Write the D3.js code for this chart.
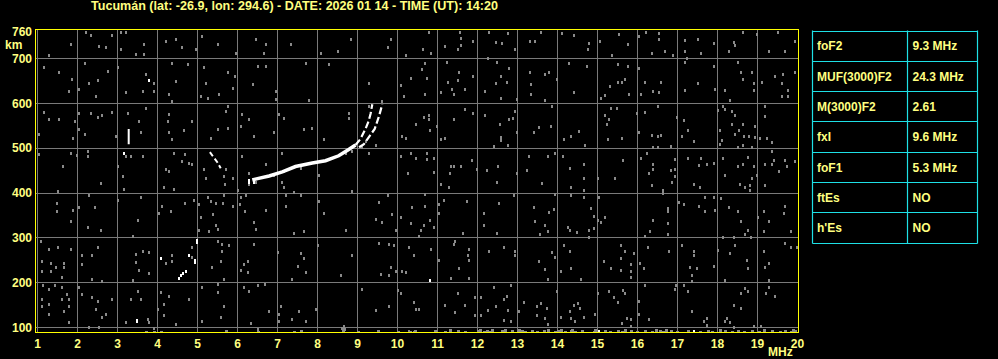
<!DOCTYPE html>
<html><head><meta charset="utf-8">
<script src="https://cdn.jsdelivr.net/npm/d3@7"></script>
<style>html,body{margin:0;padding:0;background:#000;overflow:hidden}svg{display:block}</style>
</head><body><svg id="c" width="998" height="359"></svg>
<script>
// ---------- data ----------
const titleText = "Tucumán (lat: -26.9, lon: 294.6) - DATE: 2026 01 14 - TIME (UT): 14:20";
const freqTicks = [1,2,3,4,5,6,7,8,9,10,11,12,13,14,15,16,17,18,19,20];
const heightTicks = [100,200,300,400,500,600,700,760];
const paramNames = ["foF2","MUF(3000)F2","M(3000)F2","fxI","foF1","ftEs","h'Es"];
const paramValues = ["9.3 MHz","24.3 MHz","2.61","9.6 MHz","5.3 MHz","NO","NO"];

// main F-layer trace (MHz, km)
const traceMain = [[6.37,429],[6.5,432],[6.79,438],[7.12,447],[7.45,459],[7.87,467],[8.2,472],[8.53,483],[8.78,497],[8.95,507]];
// ordinary branch near the cusp
const traceO = [[8.95,507],[9.07,520],[9.2,543],[9.28,561],[9.33,578],[9.37,598]];
// extraordinary branch
const traceX = [[9.04,502],[9.16,509],[9.28,524],[9.43,543],[9.53,569],[9.62,598]];
// F1 fragment
const traceF1 = [[5.31,491],[5.5,468],[5.58,455]];
// short vertical echo
const traceV = [[3.28,543],[3.28,509]];
// isolated strong echoes
const whiteDots = [[3.78,653],[3.15,489],[4.98,296],[4.98,291],[4.93,246],[4.93,250],[4.78,261],[4.09,256],[4.71,226],[4.63,221],[4.54,211],[4.58,216],[3.48,114],[3.48,117],[10.82,205],[15.04,92],[17.4,93],[6.3,428],[6.4,428],[6.3,424],[6.4,424]];

// background noise, read cell by cell
const noiseLowHigh = [[2.21,758],[2.33,752],[2.54,728],[2.71,725],[1.83,732],[1.29,707],[3.08,758],[3.21,760],[3.08,721],[3.67,732],[3.46,710],[4.21,740],[4.46,743],[4.62,725],[4.96,721],[5.12,751],[5.5,732],[5.96,713],[6.46,743],[6.71,732],[6.67,713],[7.33,732],[8.08,713],[8.5,717],[8.83,743],[9.75,725],[9.83,743],[10.21,707],[2.87,752],[3.67,710],
[1.17,680],[1.53,670],[1.86,655],[2.19,691],[2.29,646],[2.52,652],[2.77,672],[3.0,680],[1.79,628],[2.04,633],[2.46,617],[3.2,625],[3.71,665],[3.92,646],[3.92,628],[3.63,628],[4.29,620],[4.37,691],[4.46,650],[4.75,687],[4.37,605],[5.17,680],[5.21,646],[5.08,617],[5.25,611],[5.54,620],[5.77,669],[5.94,661],[5.88,635],[6.52,684],[6.38,643],[6.71,684],[6.96,628],[6.96,609],[7.71,691],[8.29,687],[7.79,608],[9.29,646],[10.08,640],[10.33,657],[10.17,617],
[1.17,581],[1.29,564],[1.54,566],[1.94,561],[2.04,579],[2.33,579],[2.5,570],[2.62,573],[2.87,581],[2.04,542],[2.19,531],[1.88,523],[2.96,527],[1.04,531],[3.25,579],[3.71,590],[3.54,561],[3.58,536],[4.29,576],[4.25,561],[4.29,535],[4.67,541],[4.37,520],[4.87,561],[5.75,594],[5.71,582],[5.5,543],[5.75,546],[5.33,523],[6.12,576],[6.08,550],[6.29,564],[6.42,527],[7.04,576],[7.17,568],[6.92,535],[7.67,542],[7.87,544],[8.17,520],[8.79,579],[8.79,568],[9.29,594],[9.62,605],[10.12,527],[10.21,523],[10.46,553],
[1.04,486],[1.83,490],[1.98,484],[2.27,494],[2.27,482],[1.63,460],[3.02,460],[3.21,482],[3.33,482],[3.63,482],[3.13,438],[4.21,453],[4.29,449],[4.62,471],[4.79,467],[4.87,464],[4.69,486],[4.42,490],[5.17,453],[5.21,434],[5.71,453],[5.67,438],[5.88,434],[6.29,445],[6.12,482],[6.71,464],[7.12,490],[7.17,449],[8.04,441],[9.29,490],[9.46,508],[10.08,482],[10.33,490],[10.46,479],[10.25,445],
[6.3,421],[6.45,425],[6.9,441],[7.6,456],[8.7,489],[8.85,494],[9.1,503],[9.22,515]];

const noiseLowLow = [[2.58,422],[3.17,410],[4.17,413],[4.42,410],[5.69,421],[6.0,406],[7.12,425],[7.17,413],[1.5,404],
[1.48,378],[1.48,360],[1.88,361],[2.04,369],[2.29,395],[2.44,369],[1.83,337],[2.27,324],[2.58,317],[3.0,384],[3.52,340],[3.58,391],[3.38,305],[4.12,372],[4.33,359],[4.69,378],[4.04,355],[4.92,384],[5.04,376],[5.08,346],[5.25,391],[5.33,382],[5.46,378],[5.38,354],[5.63,378],[5.67,395],[5.88,372],[5.46,328],[5.52,320],[5.29,315],[5.04,317],[6.06,375],[6.08,391],[6.19,360],[6.22,395],[6.71,363],[6.42,335],[6.46,320],[7.21,395],[7.41,402],[7.58,395],[7.21,372],[7.41,311],[7.67,315],[8.04,382],[8.17,355],[8.71,317],[8.87,404],[9.54,380],[9.75,395],[9.87,354],[9.62,335],[9.46,343],[10.08,346],[10.33,333],[10.37,369],[10.54,305],[9.96,318],
[1.08,293],[1.29,276],[1.52,279],[1.83,276],[1.12,249],[1.33,243],[1.46,234],[1.67,243],[1.12,227],[1.33,227],[1.67,234],[2.12,261],[2.12,242],[2.37,261],[2.5,279],[1.62,212],[2.37,208],[2.62,203],[3.46,264],[3.63,270],[3.79,268],[3.46,246],[3.54,229],[3.79,221],[3.38,205],[4.37,261],[4.21,244],[4.37,248],[4.87,279],[4.87,257],[5.5,293],[5.62,287],[5.62,270],[5.79,285],[5.58,248],[5.37,234],[5.67,208],[6.17,242],[6.25,249],[6.08,229],[6.25,223],[6.42,287],[7.0,268],[7.37,208],[7.58,266],[7.67,256],[7.5,238],[7.71,223],[8.0,283],[8.58,216],[8.87,261],[9.54,288],[9.79,287],[9.92,283],[9.83,236],[9.96,227],[9.58,220],[9.79,218],[10.12,227],[10.21,223],[10.29,279],[10.42,261],
[1.14,194],[1.29,186],[1.44,194],[1.12,164],[1.12,147],[1.29,153],[1.29,130],[1.62,190],[1.73,175],[1.62,164],[1.79,147],[1.79,164],[1.65,136],[1.79,112],[2.04,190],[2.12,175],[2.37,168],[2.5,159],[2.46,141],[2.62,123],[2.71,130],[2.54,102],[2.29,102],[2.87,164],[3.21,112],[3.33,164],[3.58,164],[3.5,181],[3.79,112],[3.92,100],[3.75,119],[4.08,179],[4.29,171],[4.17,153],[4.17,127],[4.0,141],[4.79,164],[4.46,108],[5.12,190],[5.52,196],[5.52,179],[5.67,147],[5.58,124],[5.12,115],[6.17,190],[6.29,182],[6.52,194],[6.69,197],[6.33,109],[6.5,96],[6.79,136],[7.08,147],[7.04,130],[7.04,115],[7.37,118],[7.54,136],[7.71,115],[7.96,141],[8.62,100],[8.67,104],[9.12,186],[9.46,138],[9.79,147],[10.0,184],[10.08,176],[10.42,156],[10.46,141],[10.29,93],[10.42,89]];

const noiseHighHigh = [[10.79,758],[11.56,758],[11.59,745],[11.89,740],[11.59,730],[11.5,721],[11.19,727],[10.64,721],[10.85,712],[12.29,760],[12.45,737],[12.6,734],[12.27,702],[12.75,757],[12.94,721],[13.31,740],[13.44,740],[13.59,760],[14.1,757],[14.4,752],[14.79,734],[14.77,721],[15.06,740],[15.35,707],[15.54,755],[15.75,732],[16.2,760],[16.04,750],[16.54,757],[16.54,743],[16.35,712],[16.69,717],[16.9,707],[17.19,742],[17.5,743],[17.19,717],[17.59,712],[17.9,734],[18.4,737],[18.44,730],[18.29,717],[18.65,760],[18.98,755],[19.5,758],[19.29,717],[19.69,717],[19.94,740],
[10.69,691],[10.6,676],[10.73,657],[10.69,620],[11.23,693],[11.54,670],[11.25,648],[11.5,652],[11.35,633],[11.69,633],[11.09,625],[11.4,620],[11.89,661],[12.48,693],[12.79,678],[12.59,661],[12.45,646],[12.19,628],[12.73,648],[12.59,611],[12.98,609],[13.31,670],[13.34,643],[13.69,665],[13.79,670],[13.69,608],[13.34,620],[13.98,655],[14.29,691],[14.73,684],[14.4,625],[15.5,687],[15.75,684],[15.7,655],[15.5,648],[15.62,648],[15.31,639],[15.19,618],[15.09,613],[15.79,621],[16.09,621],[16.19,648],[16.4,628],[16.54,626],[16.59,648],[16.04,678],[17.19,693],[17.23,702],[17.9,684],[17.5,646],[17.19,630],[17.94,631],[18.5,693],[18.59,670],[18.85,670],[18.65,655],[18.9,645],[18.19,630],[18.31,608],[18.9,630],[19.1,648],[19.44,661],[19.65,666],[19.6,645],[19.77,630],[19.77,617],[19.6,617],[19.94,670],
[10.65,570],[10.79,575],[10.79,566],[10.98,549],[10.81,540],[11.09,520],[11.19,523],[11.4,566],[11.69,588],[11.89,579],[12.19,575],[12.56,553],[12.94,582],[12.79,566],[12.89,568],[12.98,535],[12.59,526],[12.59,518],[12.75,508],[12.4,505],[13.85,594],[13.4,535],[13.54,547],[13.84,549],[14.15,520],[14.34,527],[14.54,538],[14.69,508],[15.19,573],[15.29,564],[15.23,553],[15.34,590],[15.48,590],[15.25,521],[15.6,523],[15.98,579],[16.04,535],[16.19,581],[16.5,594],[16.35,530],[16.5,528],[16.59,530],[16.4,503],[16.5,503],[16.84,505],[16.98,570],[17.15,563],[17.27,541],[17.1,527],[17.4,516],[18.0,585],[18.15,593],[18.19,588],[18.35,583],[18.44,573],[18.35,553],[18.65,553],[18.54,541],[18.44,531],[18.67,528],[18.79,528],[18.94,549],[18.95,526],[18.06,541],[18.12,519],[18.06,509],[18.5,503],[18.65,508],[18.85,503],[19.06,523],[19.23,523],[19.35,514],[19.19,593],[19.19,572],
[10.73,490],[10.73,475],[10.92,479],[10.9,447],[11.34,460],[11.42,460],[11.31,445],[11.6,460],[11.85,473],[11.99,454],[12.24,451],[12.52,460],[12.98,445],[13.29,482],[13.23,451],[13.75,482],[13.94,490],[14.14,482],[14.31,456],[14.65,464],[14.65,434],[15.02,434],[15.44,434],[15.64,473],[16.09,479],[16.23,490],[16.4,464],[16.4,453],[16.29,445],[16.94,475],[16.94,453],[16.84,451],[16.94,438],[17.25,479],[17.59,479],[17.54,462],[17.73,464],[17.9,468],[18.15,479],[18.19,441],[18.5,460],[18.65,464],[18.75,481],[18.9,460],[18.98,441],[18.85,434],[19.19,464],[19.37,494],[19.4,473],[19.37,464],[19.54,449],[19.69,473],[19.73,460],[19.94,471]];

const noiseHighLow = [[11.09,419],[11.29,413],[12.48,425],[13.62,422],[14.34,413],[14.65,407],[16.35,417],[16.65,406],[16.85,425],[17.4,421],[17.56,413],[18.56,421],[18.69,413],[18.81,417],[18.81,406],[19.19,417],
[10.69,398],[11.04,375],[10.69,372],[11.15,385],[11.04,355],[10.81,340],[10.65,328],[10.9,324],[10.59,318],[11.75,382],[11.64,311],[12.15,355],[12.15,329],[12.54,378],[12.5,311],[12.9,395],[13.4,369],[13.44,337],[13.69,328],[13.79,358],[13.9,365],[13.94,398],[13.77,315],[13.56,309],[14.25,324],[14.34,395],[14.31,317],[14.5,313],[14.65,391],[14.84,367],[14.9,348],[15.02,339],[15.09,335],[15.19,346],[14.79,318],[14.9,322],[14.79,302],[15.04,391],[16.4,340],[16.31,315],[16.19,305],[16.65,400],[16.75,367],[16.75,360],[16.75,333],[16.75,309],[17.04,380],[17.15,375],[17.54,372],[17.69,391],[17.9,391],[17.69,360],[17.94,363],[18.09,389],[18.29,369],[18.52,360],[18.59,337],[18.75,318],[18.69,309],[18.15,302],[18.42,302],[18.84,302],[19.0,346],[19.15,360],[19.29,337],[19.15,315],[19.67,355],[19.69,372],[19.84,315],
[10.84,276],[11.04,251],[11.4,287],[11.44,293],[11.79,276],[11.77,261],[11.79,251],[11.54,233],[11.34,211],[11.79,211],[12.29,270],[12.65,279],[12.94,270],[12.94,261],[13.54,248],[13.69,231],[13.75,208],[13.85,268],[13.94,257],[14.09,226],[14.15,283],[14.31,270],[14.34,233],[14.59,208],[15.15,248],[15.34,233],[15.59,283],[15.7,270],[15.59,255],[15.59,229],[15.9,266],[15.85,242],[15.85,227],[15.85,212],[16.06,243],[16.15,233],[16.25,279],[16.79,270],[17.1,283],[17.4,270],[17.4,261],[17.31,235],[17.48,233],[17.35,216],[17.35,203],[17.9,238],[18.0,273],[18.31,266],[18.44,283],[18.73,251],[18.77,233],[18.19,206],[19.15,270],[19.29,243],[19.19,236],[19.29,206],[19.69,288],[19.84,279],[19.98,280],
[10.54,141],[11.19,151],[11.44,134],[11.5,176],[11.69,151],[11.94,167],[11.94,127],[12.09,167],[12.09,127],[12.25,139],[12.4,190],[12.45,147],[12.65,164],[12.73,171],[12.75,138],[12.65,117],[12.84,194],[12.84,114],[13.04,136],[13.15,156],[13.48,147],[13.59,154],[13.73,144],[13.48,127],[13.69,121],[13.75,108],[13.98,181],[14.09,124],[14.31,136],[14.4,151],[14.52,154],[14.55,144],[14.65,124],[14.35,121],[14.44,114],[14.94,129],[15.0,176],[15.29,181],[15.4,168],[15.5,156],[15.64,184],[15.69,176],[15.62,109],[15.73,121],[15.84,119],[15.85,104],[16.04,159],[16.04,130],[16.29,119],[16.19,194],[16.95,194],[16.94,186],[17.15,194],[17.27,181],[17.37,136],[17.65,115],[17.73,121],[17.75,106],[18.23,121],[18.19,115],[18.4,151],[18.59,144],[18.69,188],[18.75,181],[18.59,176],[18.92,104],[19.09,104],[19.29,191],[19.44,171],[19.2,176],[18.4,102],[18.31,112]];

// echoes on the lowest range gates
const noiseFloor = [[3.7,90],[3.9,91],[4.1,91],[5.7,93],[6.5,91],[7.4,90],[7.6,92],[8.63,92],[8.66,96],[9.0,90],[9.5,92],[10.0,91],[10.3,90],[10.45,93],
[10.94,92],[11.19,91],[11.31,95],[11.52,92],[11.69,91],[12.0,92],[12.06,95],[12.15,91],[12.23,92],[12.31,91],[12.37,94],[12.6,92],[12.67,91],[12.7,95],[12.85,92],[13.0,91],[13.04,95],[13.1,92],[13.19,91],[13.35,92],[13.48,91],[13.67,92],[13.77,95],[13.94,91],[14.02,92],[14.09,95],[14.19,91],[14.34,92],[14.37,95],[14.44,91],[14.6,92],[14.9,91],[14.94,95],[15.19,92],[15.31,91],[15.5,92],[15.62,91],[15.7,95],[15.85,92],[15.98,91],[16.19,92],[16.35,91],[16.45,95],[16.56,92],[16.65,91],[16.7,95],[16.84,92],[16.98,91],[17.27,92],[17.56,91],[17.77,92],[17.85,91],[18.06,95],[18.19,92],[18.35,91],[18.5,92],[18.67,91],[18.85,92],[19.04,91],[19.15,95],[19.37,92],[19.56,91],[19.69,92],[19.84,91],[19.9,95],[19.94,92]];

// ---------- drawing ----------
const svg = d3.select("#c");
svg.append("rect").attr("width",998).attr("height",359).attr("fill","#000");
const FONT = "'Liberation Sans', Arial, sans-serif";
const TXT = "#ffff80";

const x = d3.scaleLinear().domain([1,20]).range([37.5,797.5]);
const y = d3.scaleLinear().domain([100,700]).range([327.5,58.5]);
const frame = {l:35.5, r:798.5, t:29.5, b:332.5};

// grid
const grid = svg.append("g").attr("stroke","#7a7a7a").attr("stroke-width",1).attr("shape-rendering","crispEdges");
grid.selectAll("line.v").data(freqTicks.filter(f=>f<20)).join("line")
  .attr("x1",d=>x(d)).attr("x2",d=>x(d)).attr("y1",frame.t).attr("y2",frame.b);
grid.selectAll("line.h").data(heightTicks.filter(h=>h<=700)).join("line")
  .attr("y1",d=>y(d)).attr("y2",d=>y(d)).attr("x1",frame.l).attr("x2",frame.r);

// clip
svg.append("clipPath").attr("id","pc").append("rect")
  .attr("x",frame.l).attr("y",frame.t).attr("width",frame.r-frame.l).attr("height",frame.b-frame.t);
const plot = svg.append("g").attr("clip-path","url(#pc)");

// noise
const allNoise = [].concat(noiseLowHigh, noiseLowLow, noiseHighHigh, noiseHighLow);
plot.append("g").attr("fill","#8a8a8a").attr("shape-rendering","crispEdges")
  .selectAll("rect").data(allNoise).join("rect")
  .attr("x",d=>Math.round(x(d[0]))-1).attr("y",d=>Math.round(y(d[1]))-1)
  .attr("width",2).attr("height",3);
plot.append("g").attr("fill","#8a8a8a").attr("shape-rendering","crispEdges")
  .selectAll("rect").data(noiseFloor).join("rect")
  .attr("x",d=>Math.round(x(d[0]))-1).attr("y",d=>Math.round(y(d[1]))-1)
  .attr("width",3).attr("height",3);

// traces
const line = d3.line().x(d=>x(d[0])).y(d=>y(d[1]));
plot.append("path").datum(traceMain).attr("d",line).attr("fill","none")
  .attr("stroke","#fff").attr("stroke-width",3.5);
plot.append("path").datum(traceO).attr("d",line).attr("fill","none")
  .attr("stroke","#fff").attr("stroke-width",2.2).attr("stroke-dasharray","7,3");
plot.append("path").datum(traceX).attr("d",line).attr("fill","none")
  .attr("stroke","#fff").attr("stroke-width",2.2).attr("stroke-dasharray","7,3");
plot.append("path").datum(traceF1).attr("d",line).attr("fill","none")
  .attr("stroke","#fff").attr("stroke-width",2).attr("stroke-dasharray","5,3");
plot.append("path").datum(traceV).attr("d",line).attr("fill","none")
  .attr("stroke","#fff").attr("stroke-width",2);
plot.append("g").attr("fill","#fff").attr("shape-rendering","crispEdges")
  .selectAll("rect").data(whiteDots).join("rect")
  .attr("x",d=>Math.round(x(d[0]))-1).attr("y",d=>Math.round(y(d[1]))-1)
  .attr("width",2).attr("height",3);

// frame
svg.append("rect").attr("x",frame.l).attr("y",frame.t)
  .attr("width",frame.r-frame.l).attr("height",frame.b-frame.t)
  .attr("fill","none").attr("stroke","#ffff00").attr("stroke-width",1).attr("shape-rendering","crispEdges");

// axis labels
const lbl = svg.append("g").attr("font-family",FONT).attr("font-weight","bold").attr("font-size",12).attr("fill",TXT);
lbl.selectAll("text.y").data(heightTicks).join("text")
  .attr("x",32).attr("y",d=>y(d)).attr("dy","0.36em").attr("text-anchor","end").text(d=>d);
lbl.append("text").attr("x",5).attr("y",48.5).text("km");
const xl = svg.append("g").attr("font-family",FONT).attr("font-weight","bold").attr("font-size",12).attr("fill",TXT);
xl.selectAll("text").data(freqTicks).join("text")
  .attr("x",d=>x(d)).attr("y",348.3).attr("text-anchor","middle").text(d=>d);
svg.append("text").attr("x",768).attr("y",355.6).attr("font-family",FONT).attr("font-weight","bold")
  .attr("font-size",12).attr("fill",TXT).text("MHz");

// title
svg.append("text").attr("x",91).attr("y",10.2).attr("font-family",FONT).attr("font-weight","bold")
  .attr("font-size",12).attr("fill",TXT).attr("textLength",407).attr("lengthAdjust","spacingAndGlyphs")
  .text(titleText);

// parameter table
const tb = {l:812.5, r:977.5, mid:907.5, t:30.5, rh:30.33};
const tg = svg.append("g");
tg.selectAll("line.r").data(d3.range(paramNames.length+1)).join("line")
  .attr("x1",tb.l).attr("x2",tb.r).attr("y1",i=>Math.round(tb.t+i*tb.rh)+0.5).attr("y2",i=>Math.round(tb.t+i*tb.rh)+0.5)
  .attr("stroke","#1ee0e6").attr("stroke-width",1.2);
[tb.l,tb.mid,tb.r].forEach(px=>{
  tg.append("line").attr("x1",px).attr("x2",px).attr("y1",tb.t).attr("y2",Math.round(tb.t+paramNames.length*tb.rh)+0.5)
    .attr("stroke","#1ee0e6").attr("stroke-width",1.2);
});
const tt = tg.append("g").attr("font-family",FONT).attr("font-weight","bold").attr("font-size",12).attr("fill",TXT);
tt.selectAll("text.n").data(paramNames).join("text")
  .attr("x",tb.l+4.5).attr("y",(d,i)=>tb.t+(i+0.5)*tb.rh+4.6).text(d=>d);
tt.selectAll("text.v").data(paramValues).join("text")
  .attr("x",tb.mid+5).attr("y",(d,i)=>tb.t+(i+0.5)*tb.rh+4.6).text(d=>d);
</script>
</body></html>
